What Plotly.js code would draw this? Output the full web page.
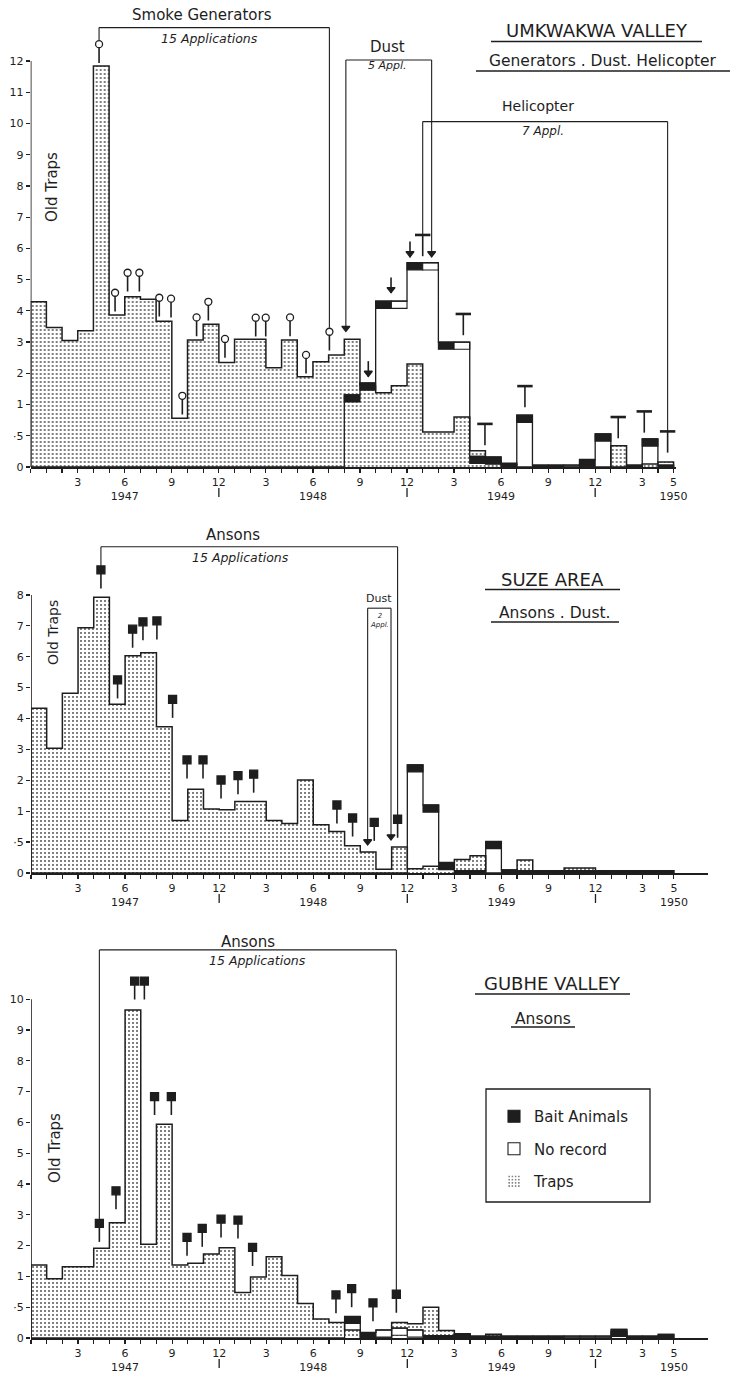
<!DOCTYPE html>
<html><head><meta charset="utf-8">
<script src="https://cdn.plot.ly/plotly-3.0.1.min.js"></script>
<style>html,body{margin:0;padding:0;background:#fff}</style>
</head><body><div id="chart" style="width:736px;height:1376px"></div>
<script>
// ================= DATA (month index 0 = Jan 1947 ... 40 = May 1950) =================
// ---- Umkwakwa Valley
const trapsUmk = [4.29,3.47,3.05,3.36,11.84,3.87,4.45,4.37,3.67,0.78,3.07,3.57,2.35,3.09,3.09,2.18,3.07,1.89,2.37,2.59,
  3.09,1.62,1.38,1.6,2.3,0.56,0.56,0.8,0.26,0.1,0.06,0,0,0,0,0,0,0.34,0,0.05,0.08];
const baitUmk = [null,null,null,null,null,null,null,null,null,null,null,null,null,null,null,null,null,null,null,null,
  1.31,1.69,4.31,null,5.54,null,3.0,null,0.17,0.16,0.04,0.83,0.03,0.03,null,0.12,0.53,null,0.03,0.45,0.03];
const noRecUmk = [null,null,null,null,null,null,null,null,null,null,null,null,null,null,null,null,null,null,null,null,
  null,null,null,4.31,null,5.54,null,3.0,null,null,null,null,null,null,0.03,null,null,null,null,null,null];
const smokeDates = [4.36,5.38,6.18,6.93,8.2,8.95,9.67,10.58,11.33,12.39,14.35,14.99,16.54,17.56,19.05];
const smokeLevels = [12.54,4.58,5.22,5.22,4.42,4.39,1.28,3.79,4.29,3.1,3.78,3.78,3.79,2.59,3.33];
const dustDatesUmk = [20.1,21.53,22.98,24.19,25.57];
const dustLevelsUmk = [3.33,1.89,4.57,5.72,5.72];
const heliDates = [25.0,27.59,28.97,31.52,37.47,39.13,40.62];
const heliLevels = [6.43,3.9,0.69,1.59,0.8,0.89,0.57];

// ---- Suze Area
const trapsSuze = [4.33,3.04,4.82,6.94,7.92,4.46,6.03,6.13,3.73,0.85,1.71,1.07,1.05,1.31,1.31,0.85,0.8,2.01,0.78,0.67,
  0.44,0.34,0.06,0.42,0.07,0.11,0.08,0.22,0.28,0,0,0.21,0,0,0.08,0.08,0,0,0,0,0];
const baitSuze = [null,null,null,null,null,null,null,null,null,null,null,null,null,null,null,null,null,null,null,null,
  null,null,null,null,2.5,1.2,0.17,0.04,0.04,0.51,0.05,0.04,0.04,0.04,0.04,0.04,0.04,0.04,0.04,0.04,0.04];
const noRecSuze = [null,null,null,null,null,null,null,null,null,null,null,null,null,null,null,null,null,null,null,null,
  null,null,null,null,null,null,null,null,null,null,null,null,null,null,null,null,null,null,null,null,null];
const ansonDatesSuze = [4.46,5.52,6.48,7.14,8.03,9.03,9.95,10.97,12.12,13.2,14.2,19.51,20.51,21.89,23.38];
const ansonLevelsSuze = [8.81,5.25,6.89,7.13,7.16,4.62,2.66,2.66,2.01,2.15,2.2,1.2,0.89,0.82,0.87];
const dustDatesSuze = [21.47,22.96];
const dustLevelsSuze = [0.45,0.53];

// ---- Gubhe Valley
const trapsGubhe = [1.37,0.96,1.31,1.31,1.91,2.74,9.65,2.04,5.94,1.37,1.43,1.73,1.93,0.74,0.99,1.64,1.03,0.56,0.31,0.25,
  0.13,0,0,0.25,0.23,0.5,0.12,0.06,0,0.06,0,0,0,0,0,0,0,0.1,0,0,0];
const baitGubhe = [null,null,null,null,null,null,null,null,null,null,null,null,null,null,null,null,null,null,null,null,
  0.35,0.09,null,null,null,0.04,0.04,0.07,0.03,0.03,0.03,0.03,0.03,0.03,null,null,null,0.14,0.03,0.03,0.06];
const noRecGubhe = [null,null,null,null,null,null,null,null,null,null,null,null,null,null,null,null,null,null,null,null,
  null,null,0.13,0.16,0.13,null,null,null,null,null,null,null,null,null,0.03,0.03,0.03,null,null,null,null];
const ansonDatesGubhe = [4.36,5.42,6.61,7.23,7.88,8.95,9.95,10.92,12.12,13.2,14.13,19.45,20.45,21.81,23.3];
const ansonLevelsGubhe = [2.72,3.78,10.59,10.59,6.84,6.84,2.27,2.56,2.86,2.83,1.94,0.7,0.8,0.57,0.71];

// ---- tick labels (month boundaries; year-end boundaries get a bar mark underneath)
const monthTickText = {3:'3',6:'6<br>1947',9:'9',12:'12',15:'3',18:'6<br>1948',21:'9',24:'12',
  27:'3',30:'6<br>1949',33:'9',36:'12',39:'3',41:'5<br>1950'};
const yearEndBoundaries = [12, 24, 36];
const yTickText = ['0','·5','1','2','3','4','5','6','7','8','9','10','11','12'];

// ================= DRAWING =================
const FONT = 'DejaVu Sans, Liberation Sans, sans-serif';
const INK = '#1e1e1e';
const W = 736, H = 1376;
const px = x => x / W, py = y => 1 - y / H;
// broken scale: 0..1 uses double spacing
function f(v){ if (v === null || v === undefined) return null; return v <= 1 ? 2 * v : v + 1; }
const CAP = 0.23;

const traces = [], shapes = [], annotations = [];

function axNames(n){ return n === 1 ? ['x','y'] : ['x'+n, 'y'+n]; }

function addPanel(n, traps, bait, noRec, legend){
  const [xa, ya] = axNames(n);
  const xs = traps.map((_, i) => i + 0.5);
  traces.push({type:'bar', x: xs, y: traps.map(f), width: 1, xaxis: xa, yaxis: ya,
    name:'Traps', showlegend: legend, legendgroup:'g3', legendrank: 3,
    marker:{color:'#ffffff', line:{width:0},
      pattern:{shape:'.', fgcolor:'#444444', bgcolor:'#ffffff', size:4, solidity:0.16}},
    hoverinfo:'skip'});
  const sx = [0], sy = [0];
  traps.forEach((t, i) => { sx.push(i); sy.push(f(t)); });
  sx.push(traps.length, traps.length); sy.push(f(traps[traps.length-1]), 0);
  traces.push({type:'scatter', mode:'lines', x: sx, y: sy, xaxis: xa, yaxis: ya,
    line:{shape:'hv', color: INK, width:1.5}, showlegend:false, hoverinfo:'skip'});
  const comb = traps.map((_, i) => bait[i] != null ? bait[i] : (noRec[i] != null ? noRec[i] : 0));
  const bx = [0], by = [0];
  comb.forEach((b, i) => { bx.push(i); by.push(f(b)); });
  bx.push(comb.length, comb.length); by.push(f(comb[comb.length-1]), 0);
  traces.push({type:'scatter', mode:'lines', x: bx, y: by, xaxis: xa, yaxis: ya,
    line:{shape:'hv', color: INK, width:1.3}, showlegend:false, hoverinfo:'skip'});
  function caps(arr, fill, name, rank, grp){
    const cx = [], ch = [], cb = [];
    arr.forEach((v, i) => { if (v != null) { const top = f(v); const h = Math.min(CAP, top);
      cx.push(i + 0.5); ch.push(h); cb.push(top - h); } });
    traces.push({type:'bar', x: cx, y: ch, base: cb, width: 1, xaxis: xa, yaxis: ya,
      name: name, showlegend: legend, legendgroup: grp, legendrank: rank,
      marker:{color: fill, line:{color: INK, width:1.1}}, hoverinfo:'skip'});
  }
  caps(bait, INK, 'Bait Animals', 1, 'g1');
  caps(noRec, '#ffffff', 'No record', 2, 'g2');
}

function addPins(n, dates, levels, kind){
  const [xa, ya] = axNames(n);
  const lx = [], ly = [], mx = [], my = [];
  const cfg = {
    smoke: {stemTop: 0.1, stemLen: 0.5, sym: 'circle', size: 7, mOff: 0},
    anson: {stemTop: 0, stemLen: 0.6, sym: 'square', size: 8, mOff: 0},
    heli:  {stemTop: 0, stemLen: 0.68, sym: 'line-ew', size: 11, mOff: 0},
    dust:  {stemTop: -0.45, stemLen: -0.45, sym: 'triangle-down', size: 7, mOff: 0.12}
  }[kind];
  dates.forEach((d, i) => {
    const t = f(levels[i]);
    if (kind === 'dust') {
      if (i > 0 && i < dates.length - 1) { lx.push(d, d, null); ly.push(t + 0.5, t, null); }
    } else {
      lx.push(d, d, null); ly.push(t - cfg.stemTop, t - cfg.stemTop - cfg.stemLen, null);
    }
    mx.push(d); my.push(t + cfg.mOff);
  });
  traces.push({type:'scatter', mode:'lines', x: lx, y: ly, xaxis: xa, yaxis: ya,
    line:{color: INK, width: 1.6}, showlegend:false, hoverinfo:'skip', cliponaxis:false});
  traces.push({type:'scatter', mode:'markers', x: mx, y: my, xaxis: xa, yaxis: ya,
    marker:{symbol: cfg.sym, size: cfg.size, color: kind === 'smoke' ? '#ffffff' : INK,
      line:{color: INK, width: kind === 'heli' ? 2.6 : 1.3}},
    showlegend:false, hoverinfo:'skip', cliponaxis:false});
}

function bracket(n, dates, levels, level, endOff){
  const [xa, ya] = axNames(n);
  const x0 = dates[0], x1 = dates[dates.length-1];
  const e0 = f(levels[0]) + endOff, e1 = f(levels[levels.length-1]) + endOff;
  const L = {color: INK, width: 1.1};
  shapes.push({type:'line', xref: xa, yref: ya, x0: x0, x1: x1, y0: level, y1: level, line: L});
  shapes.push({type:'line', xref: xa, yref: ya, x0: x0, x1: x0, y0: level, y1: e0, line: L});
  shapes.push({type:'line', xref: xa, yref: ya, x0: x1, x1: x1, y0: level, y1: e1, line: L});
}

addPanel(1, trapsUmk, baitUmk, noRecUmk, false);
addPanel(2, trapsSuze, baitSuze, noRecSuze, false);
addPanel(3, trapsGubhe, baitGubhe, noRecGubhe, true);

addPins(1, smokeDates, smokeLevels, 'smoke');
addPins(1, dustDatesUmk, dustLevelsUmk, 'dust');
addPins(1, heliDates, heliLevels, 'heli');
addPins(2, ansonDatesSuze, ansonLevelsSuze, 'anson');
addPins(2, dustDatesSuze, dustLevelsSuze, 'dust');
addPins(3, ansonDatesGubhe, ansonLevelsGubhe, 'anson');

bracket(1, smokeDates, smokeLevels, 14.07, 0.13);
bracket(1, dustDatesUmk, dustLevelsUmk, 13.03, 0.1);
bracket(1, heliDates, heliLevels, 11.06, 0);
bracket(2, ansonDatesSuze, ansonLevelsSuze, 10.56, 0.13);
bracket(2, dustDatesSuze, dustLevelsSuze, 8.57, 0.1);
bracket(3, ansonDatesGubhe, ansonLevelsGubhe, 12.6, 0.13);

// y axis lines
[[1,13],[2,9],[3,11]].forEach(([n, top]) => {
  const [xa, ya] = axNames(n);
  shapes.push({type:'line', xref: xa, yref: ya, x0: 0, x1: 0, y0: 0, y1: top, line:{color: INK, width: 1.6}});
});

// year-end bar marks under the "12" labels
const panelAxisPx = [[30.7, 467], [31, 873], [31, 1338]];
panelAxisPx.forEach(([x0, y0]) => {
  yearEndBoundaries.forEach(b => {
    const xx = x0 + b * 15.68;
    shapes.push({type:'line', xref:'paper', yref:'paper', x0: px(xx), x1: px(xx), y0: py(y0 + 21), y1: py(y0 + 30),
      line:{color: INK, width: 1.3}});
  });
});

// text
function txt(text, x, y, size, opts){
  annotations.push(Object.assign({text: text, x: px(x), y: py(y), xref:'paper', yref:'paper',
    showarrow:false, xanchor:'center', yanchor:'middle', font:{family: FONT, size: size, color: INK}}, opts || {}));
}
function uline(x0, x1, y){
  shapes.push({type:'line', xref:'paper', yref:'paper', x0: px(x0), x1: px(x1), y0: py(y), y1: py(y), line:{color: INK, width: 1.3}});
}
// panel 1
txt('Smoke Generators', 202, 15, 15);
txt('<i>15 Applications</i>', 209, 38, 12.5);
txt('UMKWAKWA VALLEY', 597, 31, 18);  uline(491, 702, 41.5);
txt('Generators . Dust. Helicopter', 603, 61, 15.5);  uline(476, 730, 71);
txt('Dust', 387, 47, 15);
txt('<i>5 Appl.</i>', 387, 65, 11);
txt('Helicopter', 538, 106, 14);
txt('<i>7 Appl.</i>', 543, 131, 12);
txt('Old Traps', 52, 187, 15, {textangle: -90});
// panel 2
txt('Ansons', 233, 535, 15);
txt('<i>15 Applications</i>', 240, 557, 12.5);
txt('Dust', 379, 598, 11);
txt('<i>2<br>Appl.</i>', 379, 620, 7);
txt('SUZE AREA', 552, 579, 18);  uline(485, 620, 589.5);
txt('Ansons . Dust.', 555, 613, 15.5);  uline(491, 619, 622);
txt('Old Traps', 53, 633, 14, {textangle: -90});
// panel 3
txt('Ansons', 248, 942, 15);
txt('<i>15 Applications</i>', 257, 960, 12.5);
txt('GUBHE VALLEY', 552, 983, 18);  uline(475, 630, 994);
txt('Ansons', 543, 1019, 15.5);  uline(511, 575, 1027);
txt('Old Traps', 55, 1148, 15, {textangle: -90});

// legend box
shapes.push({type:'rect', xref:'paper', yref:'paper', x0: px(486), x1: px(650), y0: py(1089), y1: py(1202),
  line:{color: INK, width: 1.3}, fillcolor:'rgba(0,0,0,0)'});

const bounds = Array.from({length: 42}, (_, i) => i);
function xAxis(dom, range, anchor){
  return {domain: dom, range: range, anchor: anchor, tickvals: bounds,
    ticktext: bounds.map(b => monthTickText[b] || ''), tickangle: 0,
    ticks:'outside', ticklen: 4, tickwidth: 1.2, tickcolor: INK,
    showline: true, linecolor: INK, linewidth: 1.6, showgrid: false, zeroline: false,
    tickfont:{family: FONT, size: 11, color: INK}, fixedrange: true};
}
function yAxis(dom, range, anchor, top){
  const tv = Array.from({length: top + 1}, (_, i) => i);
  return {domain: dom, range: range, anchor: anchor, tickvals: tv, ticktext: yTickText.slice(0, top + 1),
    ticks:'outside', ticklen: 4, tickwidth: 1.2, tickcolor: INK,
    showline: false, showgrid: false, zeroline: false,
    tickfont:{family: FONT, size: 11, color: INK}, fixedrange: true};
}

const layout = {
  width: W, height: H, margin:{l:0, r:0, t:0, b:0}, paper_bgcolor:'#ffffff', plot_bgcolor:'rgba(0,0,0,0)',
  barmode:'overlay', bargap: 0, showlegend: true,
  font:{family: FONT, color: INK},
  xaxis:  xAxis([30.7/W, 676/W], [0, (676-30.7)/15.68], 'y'),
  yaxis:  yAxis([1-467/H, 1], [0, 467/31.23], 'x', 13),
  xaxis2: xAxis([31/W, 708/W], [0, (708-31)/15.68], 'y2'),
  yaxis2: yAxis([1-873/H, 1-495/H], [0, 378/30.9], 'x2', 9),
  xaxis3: xAxis([31/W, 708/W], [0, (708-31)/15.68], 'y3'),
  yaxis3: yAxis([1-1338/H, 1-925/H], [0, 413/30.8], 'x3', 11),
  legend:{x: px(494), y: py(1100), xanchor:'left', yanchor:'top', bgcolor:'rgba(0,0,0,0)', borderwidth: 0,
    font:{family: FONT, size: 15, color: INK}, tracegroupgap: 10, traceorder:'grouped', itemwidth: 30},
  shapes: shapes, annotations: annotations
};

Plotly.newPlot('chart', traces, layout, {staticPlot: true, displayModeBar: false});
</script>
</body></html>
